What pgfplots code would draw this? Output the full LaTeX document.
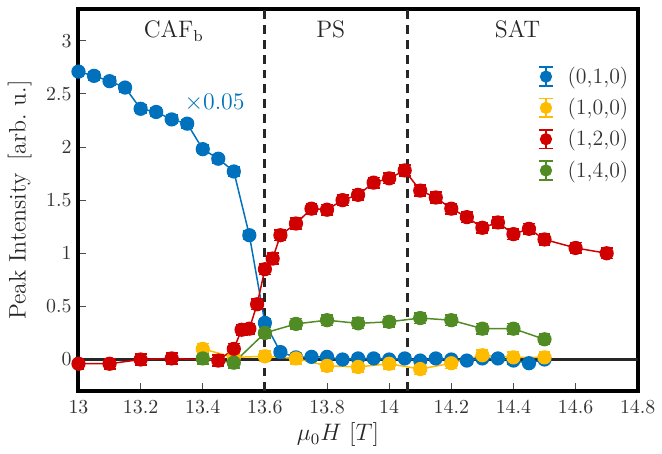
\documentclass[border=0pt]{standalone}
\usepackage{pgfplots}
\pgfplotsset{compat=1.18}
\definecolor{cblue}{RGB}{0,114,189}
\definecolor{cyellow}{RGB}{255,187,0}
\definecolor{cred}{RGB}{208,0,0}
\definecolor{cgreen}{RGB}{80,140,35}
\pgfplotsset{
  eb/.style={color=#1, mark=*, mark size=3.2pt, line width=0.75pt,
    mark options={solid, fill=#1},
    error bars/.cd, y dir=both, y explicit,
    error bar style={line width=0.8pt},
    error mark options={rotate=90, mark size=3pt, line width=0.8pt}},
}
\begin{document}
\begin{tikzpicture}
\begin{axis}[
  scale only axis, width=281.5pt, height=192.5pt,
  xmin=13, xmax=14.8, ymin=-0.3, ymax=3.3,
  xtick={13,13.2,13.4,13.6,13.8,14,14.2,14.4,14.6,14.8},
  ytick={0,0.5,1,1.5,2,2.5,3},
  tick align=inside, xtick pos=bottom, ytick pos=left,
  axis line style={line width=2pt},
  major tick style={line width=0.5pt, black!70},
  major tick length=4pt,
  tick label style={font=\normalsize, text=black!80},
  xticklabel style={yshift=-1pt},
  label style={font=\large, text=black!85},
  xlabel={$\mu_0 H$ $[T]$},
  ylabel={Peak Intensity\hspace{0.5em}[arb.\ u.]},
  xlabel style={at={(axis description cs:0.464,-0.114)}, anchor=center},
  ylabel style={at={(axis description cs:-0.105,0.5)}, anchor=center},
  legend style={draw=none, fill=none, inner sep=0pt,
    at={(axis description cs:0.991,0.852)}, anchor=north east,
    font=\fontsize{11}{13}\selectfont, text=black!80,
    nodes={inner ysep=0.5pt}, row sep=5pt},
  legend cell align=left,
  legend image code/.code={
    \path (0cm,0cm) (0.55cm,0cm);
    \draw[#1, mark=none, line width=0.8pt] (0.25cm,-0.165cm) -- (0.25cm,0.165cm);
    \draw[#1, mark=none, line width=0.8pt] (0.12cm,-0.165cm) -- (0.38cm,-0.165cm);
    \draw[#1, mark=none, line width=0.8pt] (0.12cm,0.165cm) -- (0.38cm,0.165cm);
    \draw[#1, mark size=2.7pt] plot coordinates {(0.25cm,0cm)};
  },
]
% zero line and phase boundaries
\addplot[forget plot, black!85, line width=1.2pt] coordinates {(13,0) (14.8,0)};
\addplot[forget plot, black!85, line width=1.5pt, dash pattern=on 4.5pt off 3pt] coordinates {(13.6,-0.3) (13.6,3.3)};
\addplot[forget plot, black!85, line width=1.5pt, dash pattern=on 4.5pt off 3pt] coordinates {(14.06,-0.3) (14.06,3.3)};

% (0,1,0) scaled by 0.05
\addplot[eb=cblue] coordinates {
(13.00,2.71) +- (0,0.04)
(13.05,2.67) +- (0,0.04)
(13.10,2.62) +- (0,0.04)
(13.15,2.56) +- (0,0.04)
(13.20,2.36) +- (0,0.04)
(13.25,2.33) +- (0,0.04)
(13.30,2.26) +- (0,0.04)
(13.35,2.22) +- (0,0.04)
(13.40,1.98) +- (0,0.04)
(13.45,1.89) +- (0,0.04)
(13.50,1.77) +- (0,0.04)
(13.55,1.17) +- (0,0.04)
(13.60,0.345) +- (0,0.04)
(13.65,0.07) +- (0,0.03)
(13.70,0.02) +- (0,0.03)
(13.75,0.025) +- (0,0.03)
(13.80,0.025) +- (0,0.03)
(13.85,0.00) +- (0,0.03)
(13.90,0.01) +- (0,0.03)
(13.95,0.01) +- (0,0.03)
(14.00,0.00) +- (0,0.03)
(14.05,0.01) +- (0,0.03)
(14.10,-0.01) +- (0,0.03)
(14.15,0.01) +- (0,0.03)
(14.20,0.00) +- (0,0.03)
(14.25,-0.01) +- (0,0.03)
(14.30,0.01) +- (0,0.03)
(14.35,0.01) +- (0,0.03)
(14.40,-0.01) +- (0,0.03)
(14.45,-0.035) +- (0,0.03)
(14.50,0.00) +- (0,0.03)
};
\addlegendentry{(0,1,0)}

\addplot[eb=cyellow] coordinates {
(13.4,0.10) +- (0,0.05)
(13.5,0.02) +- (0,0.05)
(13.6,0.03) +- (0,0.05)
(13.7,0.01) +- (0,0.05)
(13.8,-0.06) +- (0,0.05)
(13.9,-0.07) +- (0,0.05)
(14.0,-0.04) +- (0,0.05)
(14.1,-0.09) +- (0,0.05)
(14.2,-0.035) +- (0,0.05)
(14.3,0.04) +- (0,0.05)
(14.4,0.02) +- (0,0.05)
(14.5,0.02) +- (0,0.05)
};
\addlegendentry{(1,0,0)}

\addplot[eb=cred] coordinates {
(13.00,-0.04) +- (0,0.05)
(13.10,-0.04) +- (0,0.05)
(13.20,0.00) +- (0,0.05)
(13.30,0.01) +- (0,0.05)
(13.45,-0.01) +- (0,0.05)
(13.50,0.10) +- (0,0.05)
(13.525,0.28) +- (0,0.05)
(13.55,0.29) +- (0,0.05)
(13.575,0.52) +- (0,0.05)
(13.60,0.85) +- (0,0.05)
(13.625,0.95) +- (0,0.05)
(13.65,1.17) +- (0,0.05)
(13.70,1.28) +- (0,0.05)
(13.75,1.42) +- (0,0.05)
(13.80,1.41) +- (0,0.05)
(13.85,1.50) +- (0,0.05)
(13.90,1.55) +- (0,0.05)
(13.95,1.665) +- (0,0.05)
(14.00,1.705) +- (0,0.05)
(14.05,1.78) +- (0,0.05)
(14.10,1.59) +- (0,0.05)
(14.15,1.525) +- (0,0.05)
(14.20,1.42) +- (0,0.05)
(14.25,1.34) +- (0,0.05)
(14.30,1.24) +- (0,0.05)
(14.35,1.29) +- (0,0.05)
(14.40,1.18) +- (0,0.05)
(14.45,1.23) +- (0,0.05)
(14.50,1.13) +- (0,0.05)
(14.60,1.05) +- (0,0.05)
(14.70,1.00) +- (0,0.05)
};
\addlegendentry{(1,2,0)}

\addplot[eb=cgreen] coordinates {
(13.4,0.01) +- (0,0.05)
(13.5,-0.03) +- (0,0.05)
(13.6,0.25) +- (0,0.05)
(13.7,0.335) +- (0,0.05)
(13.8,0.37) +- (0,0.05)
(13.9,0.34) +- (0,0.05)
(14.0,0.355) +- (0,0.05)
(14.1,0.39) +- (0,0.05)
(14.2,0.37) +- (0,0.05)
(14.3,0.29) +- (0,0.05)
(14.4,0.29) +- (0,0.05)
(14.5,0.19) +- (0,0.05)
};
\addlegendentry{(1,4,0)}

\node[font=\large, text=black!85, anchor=base] at (axis cs:13.307,3.03) {CAF$_\mathrm{b}$};
\node[font=\large, text=black!85, anchor=base] at (axis cs:13.812,3.03) {PS};
\node[font=\large, text=black!85, anchor=base] at (axis cs:14.413,3.03) {SAT};
\node[font=\large, text=cblue, anchor=base] at (axis cs:13.438,2.35) {$\times0.05$};
\end{axis}
\path ([xshift=-39.5pt,yshift=-30pt]current axis.south west) rectangle ([xshift=10pt,yshift=4.5pt]current axis.north east);
\end{tikzpicture}
\end{document}
